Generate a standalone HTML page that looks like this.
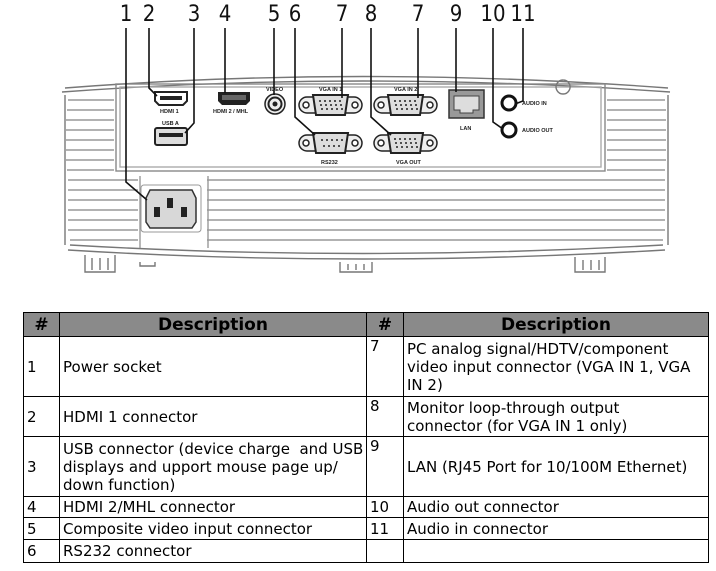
<!DOCTYPE html>
<html><head><meta charset="utf-8"><style>
body{margin:0;background:#fff;width:716px;height:571px;overflow:hidden;position:relative;font-family:"Liberation Sans",sans-serif}
svg{position:absolute;left:0;top:0}
table{position:absolute;left:23px;top:312px;width:685px;table-layout:fixed;border-collapse:collapse;font-family:"DejaVu Sans","Liberation Sans",sans-serif;font-size:15px;color:#000}
td,th{border:1.5px solid #000;padding:0 3px;vertical-align:middle;line-height:18px;overflow:hidden;white-space:nowrap}
th{background:#8a8a8a;font-size:17px;font-weight:bold;height:23px;padding:0}
</style></head><body>
<svg width="716" height="300" viewBox="0 0 716 300">
<g fill="none" stroke="#777" stroke-width="1.4">
<path d="M65 88 Q360 65 668 88"/>
<path d="M62 92 Q360 70 670 92"/>
<rect x="116" y="84" width="489" height="87" stroke="#888"/>
<rect x="120" y="87" width="481" height="80" stroke="#aaa"/>
<path d="M68 250 Q360 268 665 250"/>
<path d="M70 245 Q360 262 663 245"/>
<path d="M65 95 L65 245 M668 95 L668 245"/>
<g stroke="#999">
<path d="M68 100H114M67 110H114M66 120H114M66 130H114M66 140H114M66 150H114M66 160H114M67 170H114
M607 100H665M607 110H666M607 120H666M607 130H666M607 140H666M607 150H666M607 160H666M607 170H665
M68 180H138M68 190H138M68 200H138M68 210H138M68 220H138M68 230H138M70 240H138
M207 180H665M207 190H665M207 200H665M207 210H665M207 220H665M207 230H665M207 240H663
M208 176V248M140 176V248"/>
</g>
<path d="M85 255V272H115V255M92 258V270M100 258V270M108 258V270"/>
<path d="M340 262V272H372V262M348 264V270M356 264V270M364 264V270"/>
<path d="M575 257V272H605V257M583 260V270M591 260V270M599 260V270"/>
<path d="M140 262V266H155V262"/>
<path d="M563 80 a7 7 0 1 0 0.1 0"/>
</g>
<rect x="141" y="185" width="60" height="47" rx="3" fill="none" stroke="#999"/>
<path d="M150 190H192L196 198V222L192 228H150L146 222V198Z" fill="#d8d8d8" stroke="#333" stroke-width="1.5"/>
<rect x="167" y="198" width="6" height="10" fill="#222"/>
<rect x="154" y="207" width="6" height="10" fill="#222"/>
<rect x="181" y="207" width="6" height="10" fill="#222"/>
<path d="M155 92H187V101L183 105H159L155 101Z" fill="#fff" stroke="#222" stroke-width="2"/>
<rect x="160" y="96" width="22" height="4" fill="#222"/>
<rect x="155" y="128" width="32" height="17" rx="2" fill="#ddd" stroke="#222" stroke-width="2"/>
<rect x="159" y="133" width="24" height="4" fill="#222"/>
<path d="M218 92H250V101L246 105H222L218 101Z" fill="#222"/>
<rect x="222" y="95" width="24" height="5" fill="#666"/>
<circle cx="275" cy="104" r="10" fill="#eee" stroke="#222" stroke-width="1.5"/>
<circle cx="275" cy="104" r="6.5" fill="none" stroke="#222" stroke-width="2"/>
<circle cx="275" cy="104" r="2.5" fill="#222"/>
<g id="d" stroke="#222" stroke-width="1.5" fill="#eee">
<rect x="299" y="97" width="63" height="16" rx="8"/>
<circle cx="306" cy="105" r="3" fill="#fff"/><circle cx="355" cy="105" r="3" fill="#fff"/>
<path d="M313 95H348L345 115H316Z" fill="#ddd" stroke-width="2"/>
</g>
<g fill="#222"><circle cx="320" cy="101" r="1"/><circle cx="325" cy="101" r="1"/><circle cx="330" cy="101" r="1"/><circle cx="335" cy="101" r="1"/><circle cx="340" cy="101" r="1"/><circle cx="321" cy="105" r="1"/><circle cx="326" cy="105" r="1"/><circle cx="331" cy="105" r="1"/><circle cx="336" cy="105" r="1"/><circle cx="341" cy="105" r="1"/><circle cx="322" cy="109" r="1"/><circle cx="327" cy="109" r="1"/><circle cx="332" cy="109" r="1"/><circle cx="337" cy="109" r="1"/><circle cx="342" cy="109" r="1"/></g>
<use href="#d" x="75"/>
<use href="#d" x="75" y="38"/>
<use href="#d" y="38"/>
<g fill="#222"><circle cx="395" cy="101" r="1"/><circle cx="400" cy="101" r="1"/><circle cx="405" cy="101" r="1"/><circle cx="410" cy="101" r="1"/><circle cx="415" cy="101" r="1"/><circle cx="396" cy="105" r="1"/><circle cx="401" cy="105" r="1"/><circle cx="406" cy="105" r="1"/><circle cx="411" cy="105" r="1"/><circle cx="416" cy="105" r="1"/><circle cx="397" cy="109" r="1"/><circle cx="402" cy="109" r="1"/><circle cx="407" cy="109" r="1"/><circle cx="412" cy="109" r="1"/><circle cx="417" cy="109" r="1"/>
<circle cx="395" cy="139" r="1"/><circle cx="400" cy="139" r="1"/><circle cx="405" cy="139" r="1"/><circle cx="410" cy="139" r="1"/><circle cx="415" cy="139" r="1"/><circle cx="396" cy="143" r="1"/><circle cx="401" cy="143" r="1"/><circle cx="406" cy="143" r="1"/><circle cx="411" cy="143" r="1"/><circle cx="416" cy="143" r="1"/><circle cx="397" cy="147" r="1"/><circle cx="402" cy="147" r="1"/><circle cx="407" cy="147" r="1"/><circle cx="412" cy="147" r="1"/><circle cx="417" cy="147" r="1"/>
<circle cx="322" cy="140" r="1"/><circle cx="327" cy="140" r="1"/><circle cx="332" cy="140" r="1"/><circle cx="337" cy="140" r="1"/><circle cx="342" cy="140" r="1"/><circle cx="324" cy="146" r="1"/><circle cx="329" cy="146" r="1"/><circle cx="334" cy="146" r="1"/><circle cx="339" cy="146" r="1"/></g>
<rect x="449" y="90" width="35" height="28" fill="#999" stroke="#333" stroke-width="1.5"/>
<path d="M454 96H479V110H473V113H460V110H454Z" fill="#ddd" stroke="#444"/>
<circle cx="509" cy="103" r="7" fill="#fff" stroke="#111" stroke-width="3"/>
<circle cx="509" cy="130" r="7" fill="#fff" stroke="#111" stroke-width="3"/>
<g font-family="Liberation Sans,sans-serif" font-size="5.5" fill="#222" font-weight="bold">
<text x="160" y="113">HDMI 1</text><text x="162" y="125">USB A</text><text x="213" y="113">HDMI 2 / MHL</text>
<text x="266" y="91">VIDEO</text><text x="319" y="91">VGA IN 1</text><text x="394" y="91">VGA IN 2</text>
<text x="321" y="164">RS232</text><text x="396" y="164">VGA OUT</text><text x="460" y="130">LAN</text>
<text x="522" y="105">AUDIO IN</text><text x="522" y="132">AUDIO OUT</text>
</g>
<g fill="none" stroke="#111" stroke-width="1.6">
<path d="M126 28V182L147 200"/><path d="M149 28V88L157 96"/><path d="M194 28V123L185 133"/>
<path d="M225 28V93"/><path d="M274 28V95"/><path d="M295 28V117L315 135"/>
<path d="M342 28V98"/><path d="M371 28V117L391 135"/><path d="M418 28V98"/>
<path d="M456 28V92"/><path d="M493 28V122L503 129"/><path d="M523 28V101L515 104"/>
</g>
<g font-family="DejaVu Sans Condensed,Liberation Sans,sans-serif" font-size="22" fill="#111" text-anchor="middle">
<text x="126" y="21">1</text><text x="149" y="21">2</text><text x="194" y="21">3</text><text x="225" y="21">4</text>
<text x="274" y="21">5</text><text x="295" y="21">6</text><text x="342" y="21">7</text><text x="371" y="21">8</text>
<text x="418" y="21">7</text><text x="456" y="21">9</text><text x="493" y="21">10</text><text x="523" y="21">11</text>
</g>
</svg>
<table>
<colgroup><col style="width:36px"><col style="width:307px"><col style="width:37px"><col style="width:305px"></colgroup>
<tr><th>#</th><th>Description</th><th>#</th><th>Description</th></tr>
<tr style="height:60px"><td>1</td><td>Power socket</td><td style="vertical-align:top">7</td><td>PC analog signal/HDTV/component<br>video input connector (VGA IN 1, VGA<br>IN 2)</td></tr>
<tr style="height:40px"><td>2</td><td>HDMI 1 connector</td><td style="vertical-align:top">8</td><td>Monitor loop-through output<br>connector (for VGA IN 1 only)</td></tr>
<tr style="height:60px"><td>3</td><td>USB connector (device charge&nbsp; and USB<br>displays and upport mouse page up/<br>down function)</td><td style="vertical-align:top">9</td><td>LAN (RJ45 Port for 10/100M Ethernet)</td></tr>
<tr style="height:21px"><td>4</td><td>HDMI 2/MHL connector</td><td>10</td><td>Audio out connector</td></tr>
<tr style="height:22px"><td>5</td><td>Composite video input connector</td><td>11</td><td>Audio in connector</td></tr>
<tr style="height:23px"><td>6</td><td>RS232 connector</td><td></td><td></td></tr>
</table>
</body></html>
